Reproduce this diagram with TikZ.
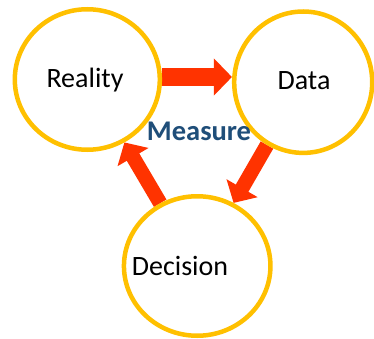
\documentclass[tikz,border=0pt]{standalone}
\usepackage{fontspec}
\setmainfont{Carlito}
\usetikzlibrary{arrows.meta,shapes.geometric}
\pgfdeclarelayer{back}
\pgfsetlayers{back,main}
\definecolor{ringgold}{HTML}{FFC000}
\definecolor{flowred}{HTML}{FF3300}
\definecolor{measureblue}{HTML}{1F4E79}
\begin{document}
\begin{tikzpicture}[x=1pt,y=1pt,
  ring/.style={ellipse, draw=ringgold, line width=4.5pt, inner sep=0pt},
  caption/.style={font=\fontsize{28}{30}\selectfont, anchor=base, inner sep=0pt},
  wide flow/.style={draw=flowred, line width=18pt, -{Triangle[width=36pt,length=18pt]}},
  slim flow/.style={draw=flowred, line width=14.5pt, -{Triangle[width=35pt,length=17pt]}}]
\useasboundingbox (0,0) rectangle (374,338);

% the three stages of the cycle
\node[ring, minimum width=145pt, minimum height=140.5pt] (rea) at (87.3,258.5) {};
\node[ring, minimum width=138pt, minimum height=141.4pt] (dat) at (303.2,255.8) {};
\node[ring, minimum width=146.5pt, minimum height=139.5pt] (dec) at (197.2,72) {};

\node[caption] (reatxt) at (85,250.7) {Reality};
\node[caption] (dattxt) at (304,248.7) {Data};
\node[caption] (dectxt) at (180,63) {Decision};
\node[caption, font=\fontsize{28.5}{30}\selectfont\bfseries, text=measureblue] (meas) at (199,198) {Measure};

% block arrows sit underneath the rings
\begin{pgfonlayer}{back}
  \fill[white] (0,0) rectangle (374,338);
  \draw[wide flow] ([yshift=2.5pt]rea.east) -- ([yshift=2.5pt]rea.east -| dat.west);
  \draw[slim flow] (dat) -- (dec);
  \draw[slim flow] (dec) -- (rea);
\end{pgfonlayer}
\end{tikzpicture}
\end{document}
